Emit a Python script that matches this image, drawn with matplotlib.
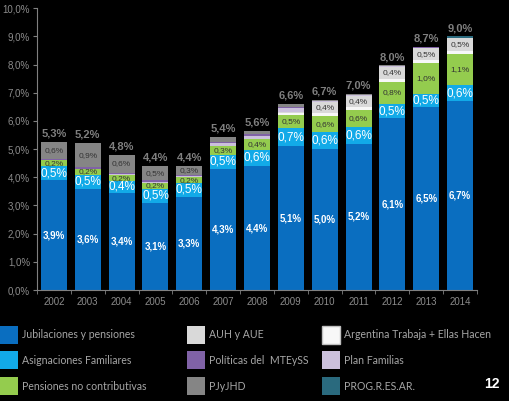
import matplotlib
matplotlib.use("Agg")
import matplotlib.pyplot as plt
from matplotlib.patches import Rectangle
import numpy as np

years = ["2002", "2003", "2004", "2005", "2006", "2007", "2008",
         "2009", "2010", "2011", "2012", "2013", "2014"]

# segment heights (% of GDP)
jub  = [3.9, 3.6, 3.45, 3.1, 3.3, 4.3, 4.4, 5.1, 5.0, 5.2, 6.1, 6.5, 6.7]
af   = [0.5, 0.5, 0.42, 0.5, 0.5, 0.5, 0.58, 0.65, 0.6, 0.6, 0.5, 0.45, 0.58]
pnc  = [0.2, 0.2, 0.2, 0.2, 0.2, 0.3, 0.38, 0.45, 0.58, 0.6, 0.8, 1.1, 1.1]
at   = [0, 0, 0, 0, 0, 0, 0, 0.08, 0.1, 0.1, 0.1, 0.1, 0.1]
auh  = [0, 0, 0, 0, 0, 0, 0, 0.05, 0.4, 0.4, 0.42, 0.45, 0.47]
pf   = [0, 0, 0.05, 0.05, 0.05, 0.12, 0.12, 0.12, 0.02, 0.02, 0.02, 0, 0]
mte  = [0.05, 0.05, 0.05, 0.05, 0.05, 0.05, 0.05, 0.05, 0.02, 0.02, 0.02, 0.01, 0.01]
pj   = [0.6, 0.87, 0.63, 0.5, 0.3, 0.15, 0.1, 0.1, 0.02, 0.02, 0.01, 0, 0]
prog = [0, 0, 0, 0, 0, 0, 0, 0, 0, 0, 0, 0.03, 0.04]

# data labels
jub_lbl   = [3.9, 3.6, 3.4, 3.1, 3.3, 4.3, 4.4, 5.1, 5.0, 5.2, 6.1, 6.5, 6.7]
af_lbl    = [0.5, 0.5, 0.4, 0.5, 0.5, 0.5, 0.6, 0.7, 0.6, 0.6, 0.5, 0.5, 0.6]
pnc_lbl   = [0.2, 0.2, 0.2, 0.2, 0.2, 0.3, 0.4, 0.5, 0.6, 0.6, 0.8, 1.0, 1.1]
pj_lbl    = [0.6, 0.9, 0.6, 0.5, 0.3, None, None, None, None, None, None, None, None]
auh_lbl   = [None, None, None, None, None, None, None, None, 0.4, 0.4, 0.4, 0.5, 0.5]
total_lbl = [5.3, 5.2, 4.8, 4.4, 4.4, 5.4, 5.6, 6.6, 6.7, 7.0, 8.0, 8.7, 9.0]

names = ["Jubilaciones y pensiones", "Asignaciones Familiares",
         "Pensiones no contributivas", "Argentina Trabaja + Ellas Hacen",
         "AUH y AUE", "Plan Familias", "Políticas del  MTEySS", "PJyJHD",
         "PROG.R.ES.AR."]
series = [jub, af, pnc, at, auh, pf, mte, pj, prog]
colors = ["#0a6ec0", "#12aae8", "#94cc4e", "#f7f7f7", "#d9d9d9",
          "#cbc0dc", "#8062a6", "#858585", "#2a6a7e"]

def fmt(v):
    return f"{v:.1f}".replace(".", ",") + "%"

fig = plt.figure(figsize=(5.10, 4.01), dpi=100, facecolor="black")
ax = fig.add_axes([37/510, 1-290/401, 440/510, (290-8.3)/401])
ax.set_facecolor("black")

x = np.arange(len(years))
w = 0.77
bottom = np.zeros(len(years))
bottoms = []
for s, c in zip(series, colors):
    vals = np.array(s, dtype=float)
    bottoms.append(bottom.copy())
    ax.bar(x, vals, w, bottom=bottom, color=c, linewidth=0)
    bottom = bottom + vals
totals = bottom

for i in range(len(years)):
    ax.text(x[i], bottoms[0][i] + jub[i]/2, fmt(jub_lbl[i]), ha="center", va="center",
            color="white", fontsize=7, fontweight="bold", family="Liberation Sans")
    ax.text(x[i], bottoms[1][i] + af[i]/2, fmt(af_lbl[i]), ha="center", va="center",
            color="white", fontsize=8.5, family="Liberation Sans")
    ax.text(x[i], bottoms[2][i] + pnc[i]/2, fmt(pnc_lbl[i]), ha="center", va="center",
            color="#333333", fontsize=6, family="Liberation Sans")
    if pj_lbl[i] is not None:
        ax.text(x[i], bottoms[7][i] + pj[i]/2, fmt(pj_lbl[i]), ha="center", va="center",
                color="#333333", fontsize=6, family="Liberation Sans")
    if auh_lbl[i] is not None:
        ax.text(x[i], bottoms[4][i] + auh[i]/2, fmt(auh_lbl[i]), ha="center", va="center",
                color="#333333", fontsize=6, family="Liberation Sans")
    ax.text(x[i], totals[i] + 0.3, fmt(total_lbl[i]), ha="center", va="center",
            color="#7f7f7f", fontsize=8, fontweight="bold", family="Liberation Sans")

ax.set_xlim(-0.5, len(years) - 0.5)
ax.set_ylim(0, 10)
ax.set_yticks(np.arange(0, 10.01, 1))
ax.set_yticklabels([fmt(v) for v in np.arange(0, 10.01, 1)])
ax.set_xticks(x)
ax.set_xticklabels(years)
ax.set_xticks(np.arange(-0.5, len(years), 1), minor=True)
ax.tick_params(axis="x", which="major", length=0, pad=5, labelsize=7, labelcolor="#8c8c8c")
ax.tick_params(axis="x", which="minor", length=3, color="#808080")
ax.tick_params(axis="y", length=3, color="#808080", labelsize=7, labelcolor="#8c8c8c", pad=2)
for lab in ax.get_xticklabels() + ax.get_yticklabels():
    lab.set_family("Liberation Sans")
for sp in ["top", "right"]:
    ax.spines[sp].set_visible(False)
for sp in ["left", "bottom"]:
    ax.spines[sp].set_color("#808080")
    ax.spines[sp].set_linewidth(0.8)

# legend (3 columns x 3 rows)
leg_order = [[0, 1, 2], [4, 6, 7], [3, 5, 8]]
col_x = [0, 187, 322]
row_y = [335, 360, 386]
box = 18
for ci, col in enumerate(leg_order):
    for ri, idx in enumerate(col):
        x0 = col_x[ci]
        yc = row_y[ri]
        ec = "#bfbfbf" if idx == 3 else "none"
        fig.add_artist(Rectangle((x0/510, 1-(yc+box/2)/401), box/510, box/401,
                                 transform=fig.transFigure, facecolor=colors[idx],
                                 edgecolor=ec, linewidth=1))
        fig.text((x0+box+4)/510, 1-yc/401, names[idx], ha="left", va="center",
                 color="#a6a6a6", fontsize=7.6, family="Lato")

fig.text(492/510, 1-384/401, "12", ha="center", va="center", color="white",
         fontsize=10, fontweight="bold", family="Liberation Sans")

fig.savefig("out.png", dpi=100, facecolor="black")
